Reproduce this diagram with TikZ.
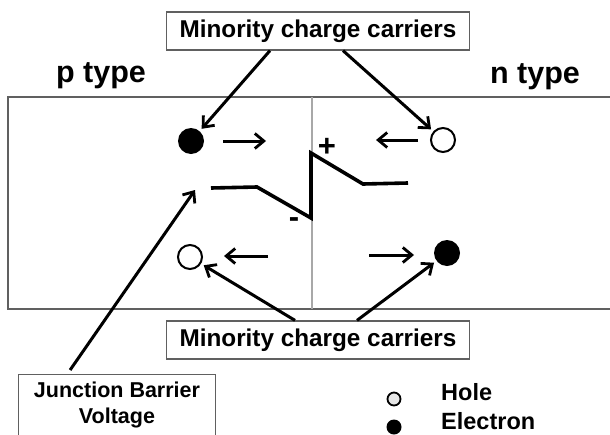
\documentclass[tikz,border=0pt]{standalone}
\usepackage{fontspec}
\setmainfont{Liberation Sans}
\usetikzlibrary{arrows.meta}
\definecolor{boxgray}{HTML}{606060}
\definecolor{midgray}{HTML}{A8A8A8}
\definecolor{holefill}{HTML}{E6E6E6}
\tikzset{
  lbl/.style={font=\bfseries\fontsize{23.5}{26}\selectfont, inner sep=0pt},
  biglbl/.style={font=\bfseries\fontsize{30.5}{34}\selectfont, inner sep=0pt},
  signlbl/.style={font=\bfseries\fontsize{31}{32}\selectfont, inner sep=0pt},
  tbox/.style={draw=boxgray, line width=1.2pt, fill=white, font=\bfseries\fontsize{24.3}{27}\selectfont, minimum width=303pt, minimum height=38pt, inner sep=2pt},
  arr/.style={line width=3pt, -{Straight Barb[length=9pt,width=15pt,line width=2.8pt]}},
  elec/.style={circle, fill=black, minimum size=26pt, inner sep=0pt},
  hole/.style={circle, draw=black, line width=2pt, fill=white, minimum size=24pt, inner sep=0pt},
  legelec/.style={circle, fill=black, minimum size=15pt, inner sep=0pt},
  leghole/.style={circle, draw=black, line width=1.8pt, fill=holefill, minimum size=13pt, inner sep=0pt},
}
\begin{document}
\begin{tikzpicture}[x=1pt, y=-1pt]
\useasboundingbox (0,0) rectangle (610,434);
% p/n block
\draw[boxgray, line width=1.5pt] (612,97) -- (8,97) -- (8,309) -- (612,309);
\draw[midgray, line width=1.1pt] (312,97) -- (312,309);
% labels
\node[biglbl] (ptype) at (101,76) {p type};
\node[biglbl] (ntype) at (535,77) {n type};
% carriers
\node[elec] (e1) at (191,141) {};
\node[hole] (h1) at (443,140) {};
\node[hole] (h2) at (190,257) {};
\node[elec] (e2) at (447,253) {};
% drift arrows
\coordinate (a1s) at (223,141); \coordinate (a1e) at (266,141);
\coordinate (a2s) at (418,140); \coordinate (a2e) at (376,140);
\coordinate (a3s) at (268,256); \coordinate (a3e) at (224,256);
\coordinate (a4s) at (369,255); \coordinate (a4e) at (414,255);
\draw[arr] (a1s) -- (a1e);
\draw[arr] (a2s) -- (a2e);
\draw[arr] (a3s) -- (a3e);
\draw[arr] (a4s) -- (a4e);
% barrier voltage zigzag
\draw[line width=3.6pt, line join=miter] (211,188) -- (257,187) -- (311,218) -- (311,153) -- (363,184) -- (408,183);
\node[signlbl] (plus) at (327,147) {+};
\node[signlbl] (minus) at (294,223) {-};
% boxes
\node[tbox] (top) at (318,31) {Minority charge carriers};
\node[tbox] (bot) at (318,340) {Minority charge carriers};
\node[draw=boxgray, line width=1.2pt, fill=white, minimum width=197pt, minimum height=66pt, anchor=north west, inner sep=0pt] (jbvbox) at (18,374) {};
\node[font=\bfseries\fontsize{21.5}{25.5}\selectfont, align=center, inner sep=0pt] (jbv) at (117,405) {Junction Barrier\\Voltage};
% connectors
\draw[arr, shorten >=3pt] ([xshift=-48pt]top.south) -- (e1);
\draw[arr, shorten >=3pt] ([xshift=25pt]top.south) -- (h1);
\draw[arr, shorten >=3pt] ([xshift=-23pt]bot.north) -- (h2);
\draw[arr, shorten >=3pt] ([xshift=39pt]bot.north) -- (e2);
\coordinate (jtip) at (195,190);
\draw[arr] ([xshift=-47pt, yshift=4pt]jbvbox.north) -- (jtip);
% legend
\node[leghole] (lh) at (394,399) {};
\node[legelec] (le) at (394,427) {};
\node[lbl, anchor=west] (lht) at (441,392) {Hole};
\node[lbl, anchor=west] (let) at (441,421) {Electron};
\end{tikzpicture}
\end{document}
